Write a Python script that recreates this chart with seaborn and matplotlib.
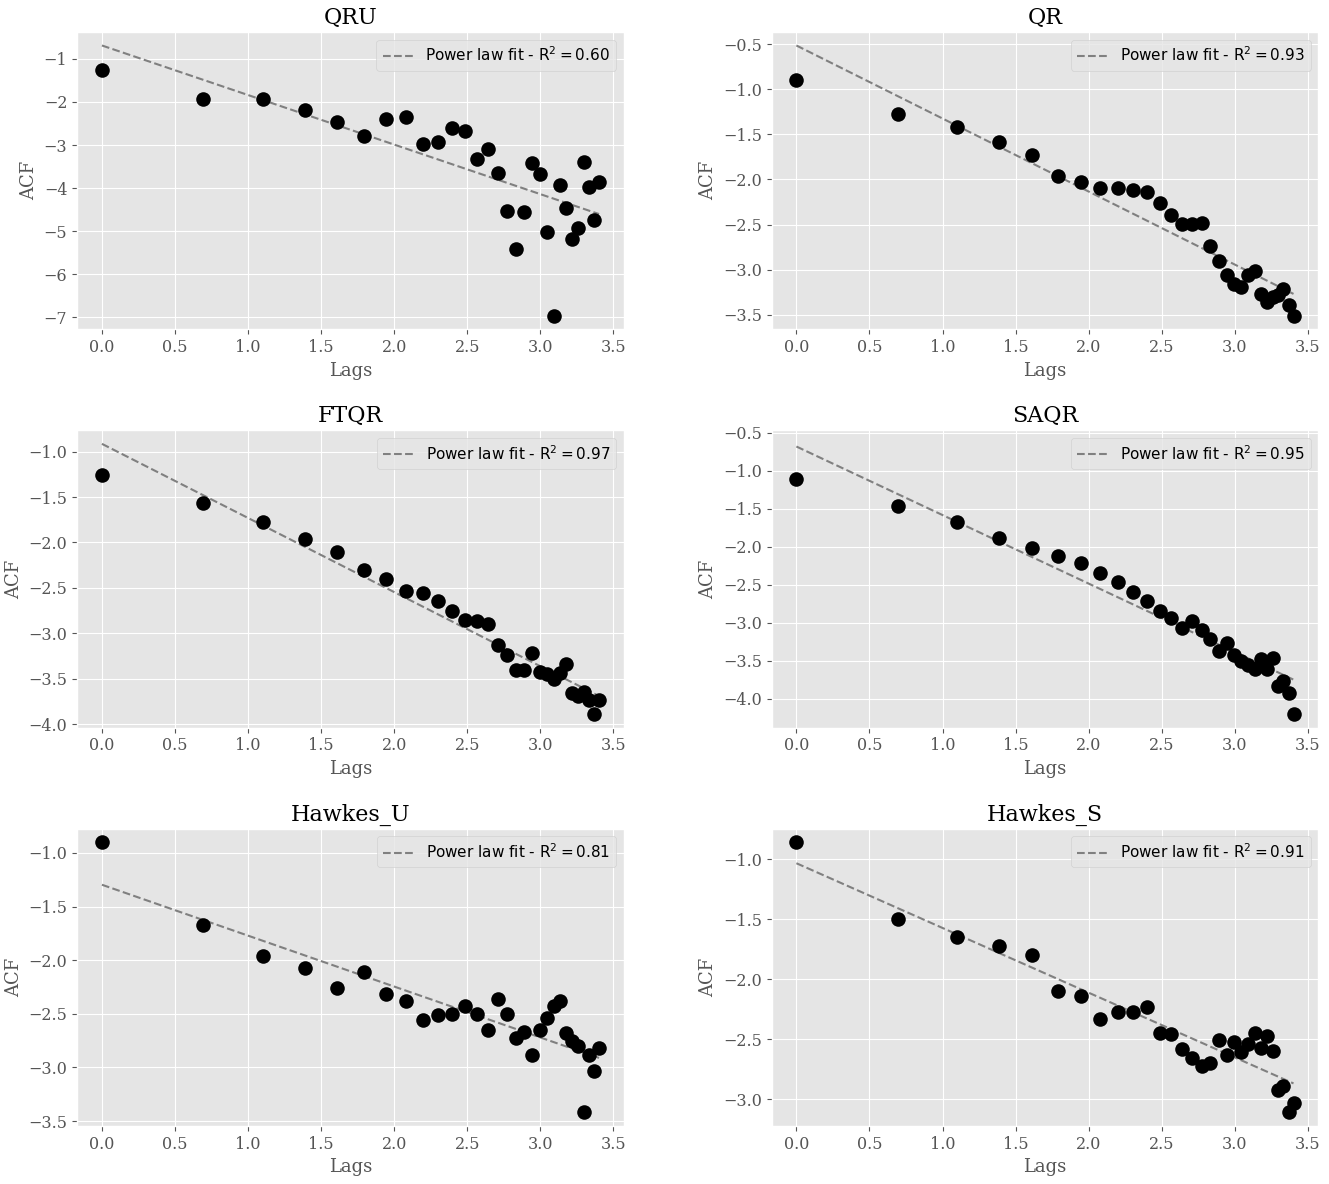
import numpy as np
import pandas as pd
import matplotlib
matplotlib.use("Agg")
import matplotlib.pyplot as plt
import seaborn as sns

plt.style.use('ggplot')
plt.rcParams['font.family'] = ['DejaVu Serif']

# lags 1..30, plotted on log scale
lags = list(range(1, 31))

models = ['QRU', 'QR', 'FTQR', 'SAQR', 'Hawkes_U', 'Hawkes_S']
r2_labels = ['0.60', '0.93', '0.97', '0.95', '0.81', '0.91']

# log ACF values
acf_qru = [-1.27, -1.93, -1.93, -2.18, -2.47, -2.78, -2.40, -2.34, -2.98, -2.93,
           -2.61, -2.68, -3.33, -3.10, -3.64, -4.52, -5.42, -4.56, -3.41, -3.67,
           -5.02, -6.96, -3.93, -4.45, -5.19, -4.92, -3.40, -3.97, -4.73, -3.85]
acf_qr = [-0.90, -1.27, -1.42, -1.58, -1.73, -1.96, -2.03, -2.09, -2.09, -2.12,
          -2.14, -2.26, -2.39, -2.49, -2.49, -2.48, -2.74, -2.90, -3.06, -3.16,
          -3.19, -3.06, -3.01, -3.27, -3.36, -3.30, -3.28, -3.21, -3.39, -3.51]
acf_ftqr = [-1.26, -1.57, -1.78, -1.96, -2.10, -2.30, -2.40, -2.53, -2.56, -2.64,
            -2.76, -2.85, -2.86, -2.90, -3.13, -3.24, -3.40, -3.40, -3.22, -3.43,
            -3.45, -3.50, -3.44, -3.34, -3.66, -3.69, -3.65, -3.74, -3.89, -3.73]
acf_saqr = [-1.11, -1.47, -1.68, -1.88, -2.02, -2.12, -2.22, -2.35, -2.46, -2.60,
            -2.71, -2.84, -2.94, -3.07, -2.98, -3.10, -3.22, -3.37, -3.27, -3.43,
            -3.51, -3.56, -3.61, -3.48, -3.61, -3.46, -3.83, -3.77, -3.92, -4.20]
acf_hawkes_u = [-0.90, -1.67, -1.96, -2.07, -2.26, -2.11, -2.32, -2.38, -2.56, -2.51,
                -2.50, -2.43, -2.50, -2.65, -2.36, -2.50, -2.73, -2.67, -2.88, -2.65,
                -2.54, -2.43, -2.38, -2.68, -2.75, -2.80, -3.42, -2.88, -3.03, -2.82]
acf_hawkes_s = [-0.86, -1.50, -1.65, -1.72, -1.80, -2.10, -2.14, -2.33, -2.27, -2.27,
                -2.23, -2.45, -2.46, -2.58, -2.66, -2.72, -2.70, -2.51, -2.63, -2.52,
                -2.61, -2.54, -2.45, -2.57, -2.47, -2.60, -2.92, -2.89, -3.11, -3.03]

all_acf = [acf_qru, acf_qr, acf_ftqr, acf_saqr, acf_hawkes_u, acf_hawkes_s]

log_lags = np.log(lags)

fig, axs = plt.subplots(3, 2, figsize=(13.29, 11.84), dpi=100)
fig.subplots_adjust(left=0.058, right=0.992, top=0.973, bottom=0.049,
                    wspace=0.27, hspace=0.34)

for ax, name, acf, r2 in zip(axs.flat, models, all_acf, r2_labels):
    df = pd.DataFrame({'Lags': log_lags, 'ACF': acf})
    # power law fit = linear fit in log-log space
    slope, intercept = np.polyfit(df['Lags'], df['ACF'], 1)
    df['fit'] = intercept + slope * df['Lags']

    sns.lineplot(data=df, x='Lags', y='fit', ax=ax, color='gray', linestyle='--',
                 linewidth=1.5, label=r'Power law fit - $\mathrm{R}^2 = ' + r2 + '$')
    sns.scatterplot(data=df, x='Lags', y='ACF', ax=ax, color='black', s=110,
                    linewidth=0, zorder=3)

    ax.set_title(name, fontsize=16)
    ax.set_xlabel('Lags', fontsize=13)
    ax.set_ylabel('ACF', fontsize=13)
    ax.tick_params(labelsize=11.5)
    ax.set_xticks([0.0, 0.5, 1.0, 1.5, 2.0, 2.5, 3.0, 3.5])
    ax.legend(loc='upper right', prop={'family': 'DejaVu Sans', 'size': 11})

# SAQR panel shows the -0.5 tick at the top
axs[1, 1].set_ylim(-4.38, -0.47)

fig.savefig('out.png', dpi=100)
